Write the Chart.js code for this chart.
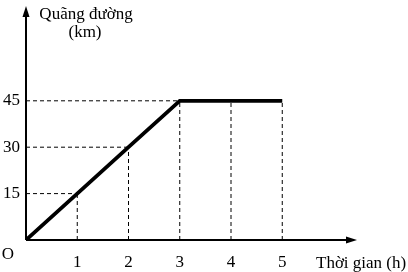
<!DOCTYPE html>
<html>
<head>
<meta charset="utf-8">
<script src="https://cdn.jsdelivr.net/npm/chart.js@4"></script>
<style>
  html, body { margin: 0; padding: 0; background: #fff; }
  #wrap { width: 408px; height: 272px; }
</style>
</head>
<body>
<div id="wrap"><canvas id="chart"></canvas></div>
<script>
// dữ liệu đồ thị
const hours = [0, 1, 2, 3, 4, 5];
const distance = [0, 15, 30, 45, 45, 45];
const xTicks = [1, 2, 3, 4, 5];
const yTicks = [15, 30, 45];

const FONT = '"Liberation Serif", "Times New Roman", serif';

const mainPoints = hours.map((h, i) => ({ x: h, y: distance[i] }));

// đường gióng nét đứt
const guides = [];
hours.forEach((h, i) => {
    if (i === 0) return;
    guides.push([{ x: h, y: 0 }, { x: h, y: distance[i] }]);
    if (distance.indexOf(distance[i]) === i) {
        guides.push([{ x: 0, y: distance[i] }, { x: h, y: distance[i] }]);
    }
});

const guideSets = guides.map(pts => ({
    data: pts,
    borderColor: '#000',
    borderWidth: 1,
    borderDash: [4, 3],
    pointRadius: 0,
    showLine: true,
    fill: false
}));

// trục, mũi tên và chữ
const axesPlugin = {
    id: 'axesPlugin',
    afterDatasetsDraw(chart) {
        const { ctx, chartArea } = chart;
        const x0 = chartArea.left, y0 = chartArea.bottom;
        ctx.save();
        ctx.strokeStyle = '#000';
        ctx.fillStyle = '#000';
        ctx.lineWidth = 2;
        ctx.beginPath();
        ctx.moveTo(x0, y0);
        ctx.lineTo(x0, chartArea.top + 6);
        ctx.moveTo(x0, y0);
        ctx.lineTo(chartArea.right - 6, y0);
        ctx.stroke();
        // mũi tên
        ctx.beginPath();
        ctx.moveTo(x0, chartArea.top - 2);
        ctx.lineTo(x0 - 3.5, chartArea.top + 9);
        ctx.lineTo(x0 + 3.5, chartArea.top + 9);
        ctx.closePath();
        ctx.fill();
        ctx.beginPath();
        ctx.moveTo(chartArea.right + 3, y0);
        ctx.lineTo(chartArea.right - 8, y0 - 3.5);
        ctx.lineTo(chartArea.right - 8, y0 + 3.5);
        ctx.closePath();
        ctx.fill();

        ctx.font = '17px ' + FONT;
        ctx.textAlign = 'center';
        ctx.textBaseline = 'alphabetic';
        ctx.fillText('Quãng đường', 86, 19);
        ctx.fillText('(km)', 85, 37);
        ctx.fillText('O', 8, 259);
        ctx.textAlign = 'left';
        ctx.fillText('Thời gian (h)', 316, 268);
        ctx.restore();
    }
};

new Chart(document.getElementById('chart'), {
    type: 'scatter',
    data: {
        datasets: [
            ...guideSets,
            {
                data: mainPoints,
                borderColor: '#000',
                borderWidth: 3.8,
                pointRadius: 0,
                showLine: true,
                fill: false
            }
        ]
    },
    options: {
        responsive: true,
        maintainAspectRatio: false,
        animation: false,
        layout: { padding: { top: 8, right: 54, left: 0, bottom: 0 } },
        plugins: {
            legend: { display: false },
            tooltip: { enabled: false }
        },
        scales: {
            x: {
                type: 'linear',
                min: 0,
                max: 6.4,
                grid: { display: false, drawTicks: false },
                border: { display: false },
                afterBuildTicks: s => { s.ticks = xTicks.map(v => ({ value: v })); },
                afterFit: s => { s.height = 32; s.paddingLeft = 0; s.paddingRight = 0; },
                ticks: { color: '#000', padding: 12, font: { family: FONT, size: 17 } }
            },
            y: {
                type: 'linear',
                min: 0,
                max: 75,
                grid: { display: false, drawTicks: false },
                border: { display: false },
                afterBuildTicks: s => { s.ticks = yTicks.map(v => ({ value: v })); },
                afterFit: s => { s.width = 26; s.paddingTop = 0; s.paddingBottom = 0; },
                ticks: { color: '#000', padding: 6, font: { family: FONT, size: 17 } }
            }
        }
    },
    plugins: [axesPlugin]
});
</script>
</body>
</html>
